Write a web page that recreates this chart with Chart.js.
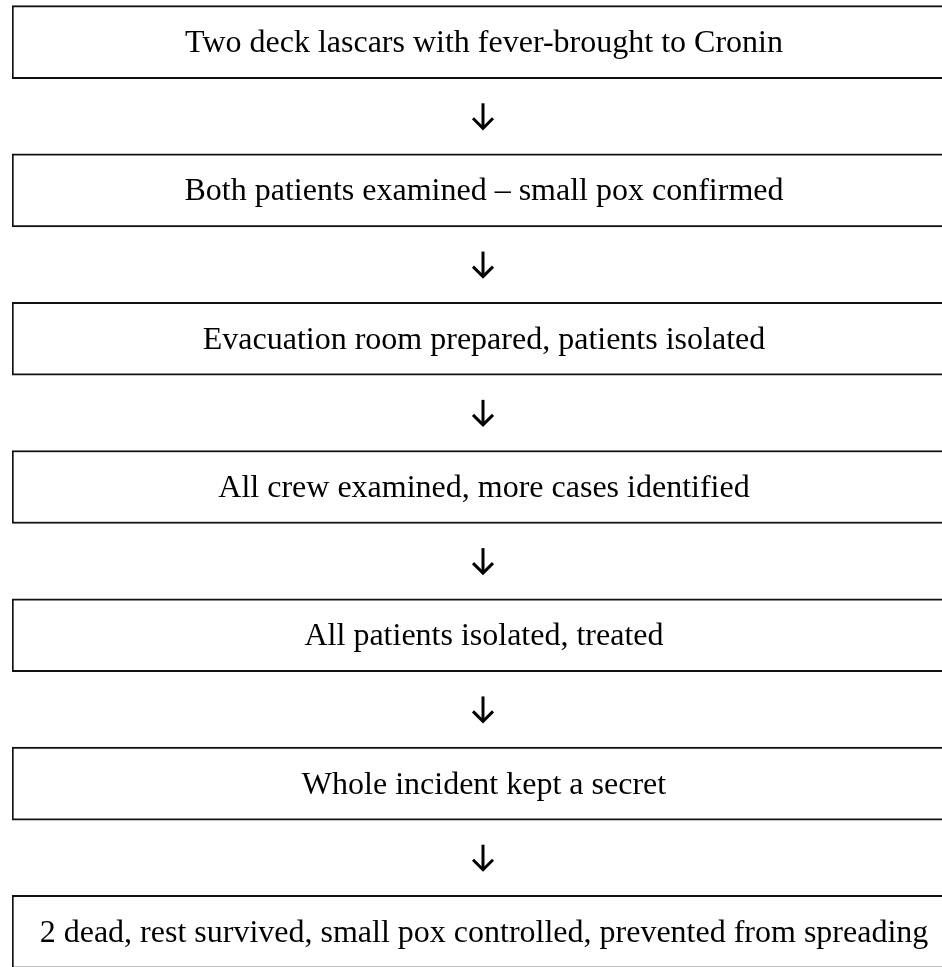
<!DOCTYPE html>
<html>
<head>
<meta charset="utf-8">
<script src="https://cdn.jsdelivr.net/npm/chart.js@4"></script>
<style>
  html, body { margin: 0; padding: 0; background: #fff; overflow: hidden; }
  #wrap { position: absolute; left: 0; top: -32px; width: 956px; height: 1038px; }
</style>
</head>
<body>
<div id="wrap"><canvas id="flow"></canvas></div>
<script>
const steps = [
  "Two deck lascars with fever-brought to Cronin",
  "Both patients examined \u2013 small pox confirmed",
  "Evacuation room prepared, patients isolated",
  "All crew examined, more cases identified",
  "All patients isolated, treated",
  "Whole incident kept a secret",
  "2 dead, rest survived, small pox controlled, prevented from spreading"
];
// each step box spans the full width of the flow
const spans = steps.map(() => [0, 1]);

const labelsAndArrows = {
  id: "labelsAndArrows",
  afterDatasetsDraw(chart) {
    const ctx = chart.ctx;
    const bars = chart.getDatasetMeta(0).data;
    ctx.save();
    ctx.fillStyle = "#000";
    ctx.font = '32px "Liberation Serif", "Times New Roman", serif';
    ctx.textAlign = "center";
    ctx.textBaseline = "alphabetic";
    bars.forEach((bar, i) => {
      const cx = (bar.x + bar.base) / 2;
      ctx.fillText(steps[i], cx, bar.y + 10);
    });
    // arrows between consecutive boxes
    ctx.strokeStyle = "#000";
    ctx.lineWidth = 3;
    ctx.lineCap = "butt";
    ctx.lineJoin = "miter";
    for (let i = 0; i < bars.length - 1; i++) {
      const a = bars[i], b = bars[i + 1];
      const cx = (a.x + a.base) / 2 - 1;
      const mid = ((a.y + a.height / 2) + (b.y - b.height / 2)) / 2;
      const top = mid - 13, tip = mid + 12;
      ctx.beginPath();
      ctx.moveTo(cx, top);
      ctx.lineTo(cx, tip);
      ctx.stroke();
      ctx.beginPath();
      ctx.moveTo(cx - 10, tip - 10);
      ctx.lineTo(cx, tip);
      ctx.lineTo(cx + 10, tip - 10);
      ctx.stroke();
    }
    ctx.restore();
  }
};

new Chart(document.getElementById("flow"), {
  type: "bar",
  data: {
    labels: steps,
    datasets: [{
      data: spans,
      backgroundColor: "#fff",
      borderColor: "#111",
      borderWidth: 2,
      borderSkipped: false,
      barThickness: 73
    }]
  },
  options: {
    indexAxis: "y",
    responsive: true,
    maintainAspectRatio: false,
    animation: false,
    layout: { padding: { left: 12, right: 0, top: 0, bottom: 0 } },
    plugins: { legend: { display: false }, tooltip: { enabled: false } },
    scales: {
      x: { display: false, min: 0, max: 1, grid: { display: false } },
      y: { display: false, grid: { display: false } }
    }
  },
  plugins: [labelsAndArrows]
});
</script>
</body>
</html>
